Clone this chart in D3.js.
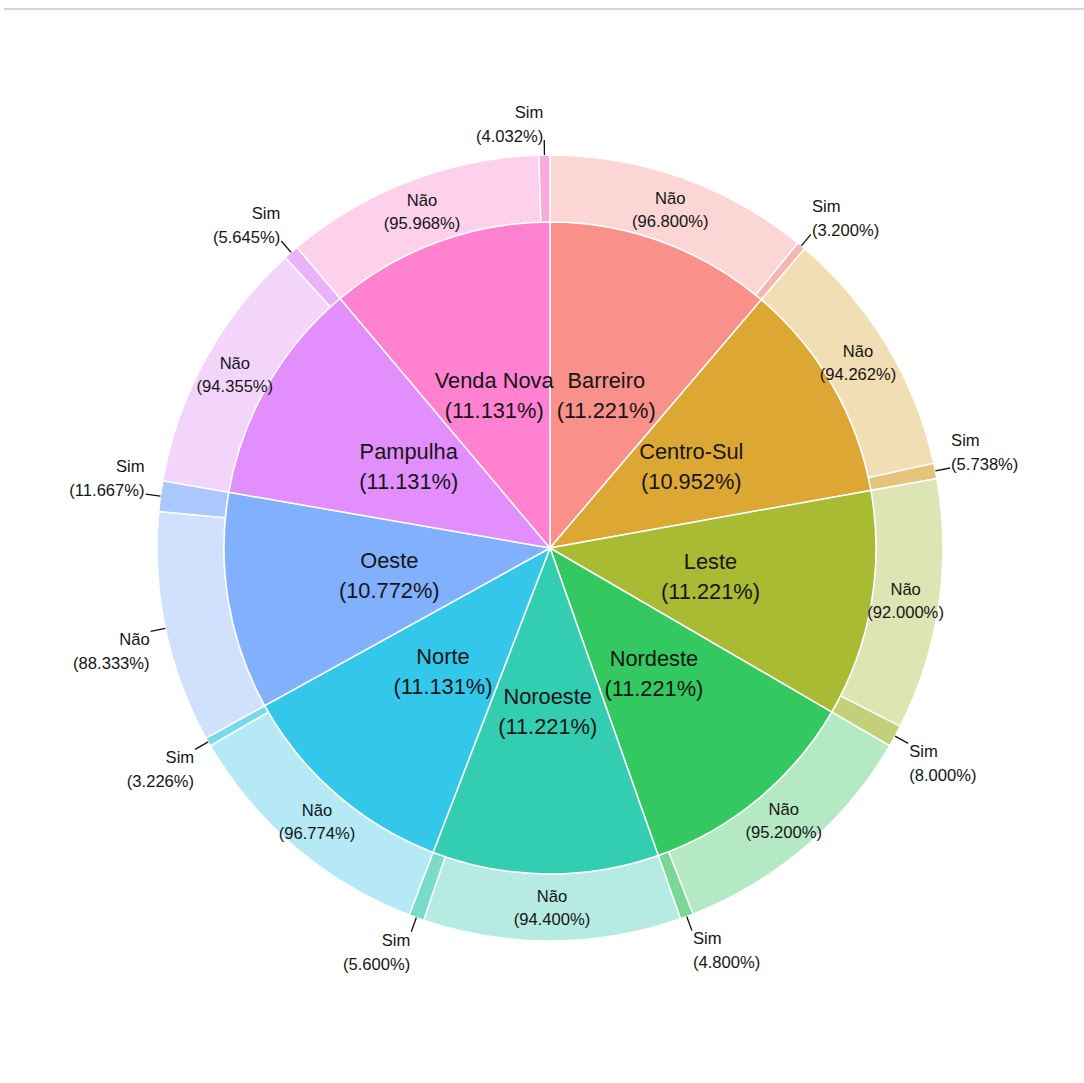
<!DOCTYPE html>
<html>
<head>
<meta charset="utf-8">
<script src="https://cdn.jsdelivr.net/npm/d3@7"></script>
<style>
  body { margin: 0; background: #fff; }
  svg { display: block; font-family: "Liberation Sans", Arial, sans-serif; }
</style>
</head>
<body>
<svg width="1084" height="1083"></svg>
<script>
// regionais (anel interno) e respostas Não/Sim (anel externo)
const regionais = ["Barreiro", "Centro-Sul", "Leste", "Nordeste", "Noroeste", "Norte", "Oeste", "Pampulha", "Venda Nova"];
const pctRegional = [11.221, 10.952, 11.221, 11.221, 11.221, 11.131, 10.772, 11.131, 11.131];
const respostas = ["Não", "Sim"];
const pctNao = [96.800, 94.262, 92.000, 95.200, 94.400, 96.774, 88.333, 94.355, 95.968];
const pctSim = [3.200, 5.738, 8.000, 4.800, 5.600, 3.226, 11.667, 5.645, 4.032];
const coresHue = ["#F8766D", "#D39200", "#93AA00", "#00BA38", "#00C19F", "#00B9E3", "#619CFF", "#DB72FB", "#FF61C3"];
// rótulos do anel externo que ficam fora do anel (com linha guia)
const rotulosFora = ["Oeste|Não"];

const svg = d3.select("svg");
const cx = 550, cy = 548;
const rInterno = 326, rExterno = 393;

// linha cinza no topo
svg.append("line")
    .attr("x1", 4).attr("x2", 1084)
    .attr("y1", 9).attr("y2", 9)
    .attr("stroke", "#d6d6d6").attr("stroke-width", 2);

const g = svg.append("g").attr("transform", `translate(${cx},${cy})`);

const dados = regionais.map((r, i) => ({
    regional: r, pct: pctRegional[i], cor: coresHue[i],
    partes: [pctNao[i], pctSim[i]]
}));

const pie = d3.pie().sort(null).value(d => d.pct);
const fatias = pie(dados);

const arcoInterno = d3.arc().innerRadius(0).outerRadius(rInterno);
const arcoExterno = d3.arc().innerRadius(rInterno).outerRadius(rExterno);

// anel externo: cada fatia dividida em Não / Sim
const partesExt = [];
fatias.forEach(f => {
    const esc = d3.scaleLinear().domain([0, 100]).range([f.startAngle, f.endAngle]);
    let acum = 0;
    f.data.partes.forEach((v, j) => {
        partesExt.push({
            regional: f.data.regional, resposta: respostas[j], pct: v, cor: f.data.cor,
            startAngle: esc(acum), endAngle: esc(acum + v)
        });
        acum += v;
    });
});

// cor do anel externo um pouco mais pastel
const pastel = (cor, k) => d3.interpolateRgb(cor, "#c8c8c8")(k);

g.selectAll("path.ext")
  .data(partesExt)
  .join("path")
    .attr("class", "ext")
    .attr("d", arcoExterno)
    .attr("fill", d => pastel(d.cor, 0.12))
    .attr("fill-opacity", d => d.resposta === "Não" ? 0.32 : 0.58)
    .attr("stroke", "#fff")
    .attr("stroke-width", 1.5);

g.selectAll("path.int")
  .data(fatias)
  .join("path")
    .attr("class", "int")
    .attr("d", arcoInterno)
    .attr("fill", d => d.data.cor)
    .attr("fill-opacity", 0.8)
    .attr("stroke", "#fff")
    .attr("stroke-width", 1.5);

// rótulos internos
const fmt = v => `(${v.toFixed(3)}%)`;
fatias.forEach(f => {
    const [x, y] = arcoInterno.centroid(f);
    const t = g.append("text")
        .attr("text-anchor", "middle")
        .attr("font-size", 21.8)
        .attr("fill", "#151515");
    t.append("tspan").attr("x", x).attr("y", y - 15).attr("dy", "0.35em").text(f.data.regional);
    t.append("tspan").attr("x", x).attr("y", y + 15).attr("dy", "0.35em").text(fmt(f.data.pct));
});

// rótulos externos
partesExt.forEach(d => {
    const fora = d.resposta === "Sim" || rotulosFora.includes(d.regional + "|" + d.resposta);
    const t = g.append("text").attr("font-size", 16.6).attr("fill", "#151515");
    if (!fora) {
        const [x, y] = arcoExterno.centroid(d);
        t.attr("text-anchor", "middle");
        t.append("tspan").attr("x", x).attr("y", y - 11.5).attr("dy", "0.35em").text(d.resposta);
        t.append("tspan").attr("x", x).attr("y", y + 11.5).attr("dy", "0.35em").text(fmt(d.pct));
        return;
    }
    const a = (d.startAngle + d.endAngle) / 2;
    const s = Math.sin(a), c = Math.cos(a);
    const x0 = s * rExterno, y0 = -c * rExterno;
    const x1 = s * (rExterno + 15), y1 = -c * (rExterno + 15);
    g.append("line")
        .attr("x1", x0).attr("y1", y0).attr("x2", x1).attr("y2", y1)
        .attr("stroke", "#111").attr("stroke-width", 1.3);
    const direita = s > 0.01;
    const xt = x1 + (direita ? 1 : -1);
    const yl1 = c > 0 ? y1 - 28 : y1 + 8;
    t.attr("text-anchor", direita ? "start" : "end");
    t.append("tspan").attr("x", xt).attr("y", yl1).attr("dy", "0.35em").text(d.resposta);
    t.append("tspan").attr("x", xt).attr("y", yl1 + 24).attr("dy", "0.35em").text(fmt(d.pct));
});
</script>
</body>
</html>
